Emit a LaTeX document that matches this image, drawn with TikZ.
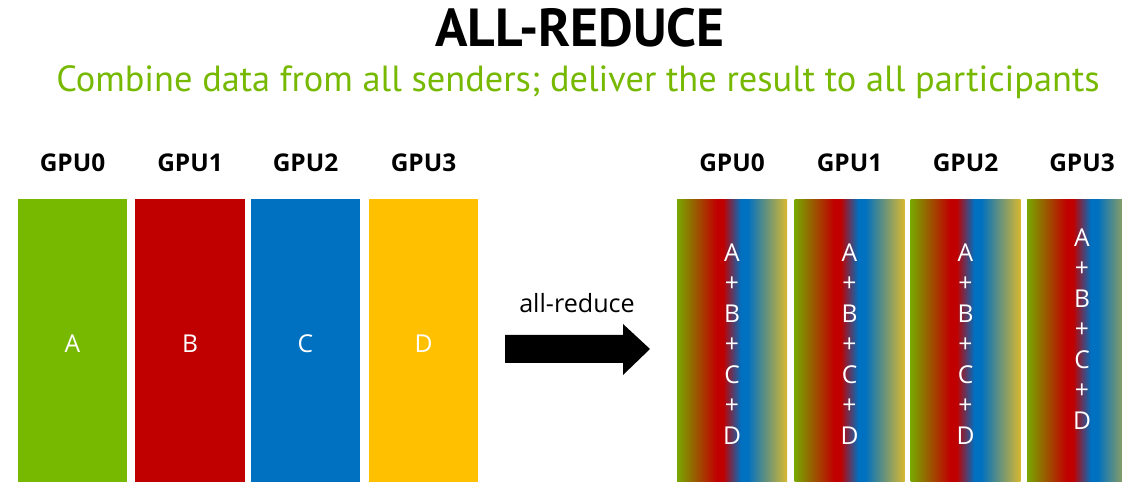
\documentclass[tikz,border=0pt]{standalone}
\usepackage{fontspec}
\setmainfont{Open Sans}
\newfontfamily\headfont{PT Sans}
\usepackage{tikz}
\usetikzlibrary{positioning}

\definecolor{nvgreen}{RGB}{118,185,0}
\definecolor{nvred}{RGB}{192,0,0}
\definecolor{nvblue}{RGB}{0,112,192}
\definecolor{nvgold}{RGB}{255,192,0}
\definecolor{mixgreen}{RGB}{120,168,0}
\definecolor{mixgold}{RGB}{216,184,48}
\pgfdeclarehorizontalshading{mixed}{100bp}{color(0bp)=(mixgreen); color(25bp)=(mixgreen);
  color(43bp)=(nvred); color(46bp)=(nvred); color(54bp)=(nvblue); color(57bp)=(nvblue);
  color(75bp)=(mixgold); color(100bp)=(mixgold)}

\tikzset{
  buf/.style={rectangle, minimum width=2.2cm, minimum height=5.8cm, inner sep=0pt,
    text=white, font=\fontsize{14}{17.4}\selectfont},
  sum/.style={buf, shading=mixed},
  gpu/.style={font=\bfseries\fontsize{13.9}{16}\selectfont, inner sep=0pt},
  stack/.style={text=white, align=center, inner sep=0pt, font=\fontsize{14}{17.4}\selectfont}
}

\begin{document}
\begin{tikzpicture}[x=0.02cm, y=-0.02cm]
  \fill[white] (0,0) rectangle (1122,482);
  \useasboundingbox (0,0) rectangle (1122,482);
  \clip (0,0) rectangle (1122,482);

  \node [anchor=base, font=\headfont\bfseries\fontsize{30.5}{33}\selectfont] (title) at (580,47) {ALL-REDUCE};
  \node [anchor=base, text=nvgreen, font=\headfont\fontsize{20.7}{24}\selectfont] (sub) at (578,92)
    {Combine data from all senders; deliver the result to all participants};

  % before
  \node [buf, fill=nvgreen] (a0) at (72.5,344) {A};
  \node [buf, fill=nvred] (a1) at (190,344) {B};
  \node [buf, fill=nvblue] (a2) at (305.5,344) {C};
  \node [buf, fill=nvgold] (a3) at (423.5,344) {D};
  \node [gpu, above=0.54cm of a0] (ga0) {GPU0};
  \node [gpu, above=0.54cm of a1] (ga1) {GPU1};
  \node [gpu, above=0.54cm of a2] (ga2) {GPU2};
  \node [gpu, above=0.54cm of a3] (ga3) {GPU3};

  % the operation
  \fill (505,335) -- (623,335) -- (623,324) -- (650,349) -- (623,375) -- (623,363) -- (505,363) -- cycle;
  \node [font=\fontsize{14.3}{16}\selectfont] (op) at (577,303) {all-reduce};

  % after
  \node [sum] (b0) at (732,344) {};
  \node [sum] (b1) at (849.5,344) {};
  \node [sum] (b2) at (965.5,344) {};
  \node [sum] (b3) at (1082,344) {};
  \node [stack] (s0) at (b0) {A\\+\\B\\+\\C\\+\\D};
  \node [stack] (s1) at (b1) {A\\+\\B\\+\\C\\+\\D};
  \node [stack] (s2) at (b2) {A\\+\\B\\+\\C\\+\\D};
  \node [stack] (s3) at ([yshift=0.3cm]b3) {A\\+\\B\\+\\C\\+\\D};
  \node [gpu, above=0.54cm of b0] (gb0) {GPU0};
  \node [gpu, above=0.54cm of b1] (gb1) {GPU1};
  \node [gpu, above=0.54cm of b2] (gb2) {GPU2};
  \node [gpu, above=0.54cm of b3] (gb3) {GPU3};
\end{tikzpicture}
\end{document}
